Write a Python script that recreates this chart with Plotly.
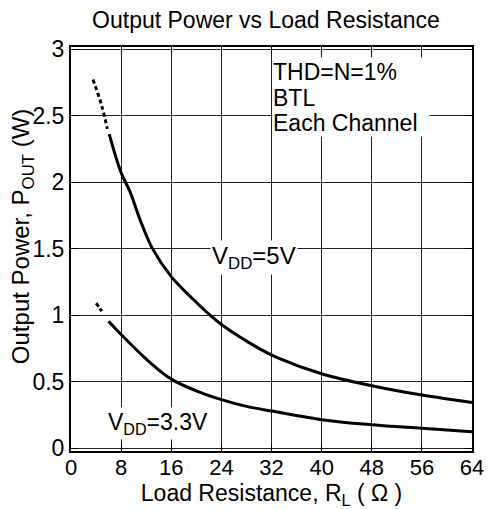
import plotly.graph_objects as go

# ---- data ----
r_5v_dash = [3.5, 4.9, 5.8]
p_5v_dash = [2.77, 2.575, 2.40]
r_5v = [6.1, 8.0, 9.4, 11.0, 12.9, 16.0, 19.5, 22.2, 24.0, 30.2, 33.0, 40, 48, 56, 64]
p_5v = [2.36, 2.07, 1.93, 1.72, 1.51, 1.29, 1.12, 1.00, 0.93, 0.745, 0.68, 0.56, 0.47, 0.40, 0.345]

r_33_dash = [4.0, 4.5, 4.9]
p_33_dash = [1.09, 1.06, 1.03]
r_33 = [6.0, 8.0, 12.6, 16.0, 20.0, 24.0, 28.0, 32, 40, 48, 56, 64]
p_33 = [0.955, 0.855, 0.645, 0.52, 0.432, 0.366, 0.315, 0.28, 0.215, 0.177, 0.15, 0.124]

x_ticks = [0, 8, 16, 24, 32, 40, 48, 56, 64]
y_ticks = [0, 0.5, 1, 1.5, 2, 2.5, 3]
y_tick_text = ["0", "0.5", "1", "1.5", "2", "2.5", "3"]

note_lines = ["THD=N=1%", "BTL", "Each Channel"]
note_y = [2.83, 2.635, 2.445]

FONT = "Liberation Sans, Arial, sans-serif"

fig = go.Figure()
line_solid = dict(color="black", width=3, shape="spline", smoothing=1.0)
line_dash = dict(color="black", width=3, dash="4px,3px", shape="spline")

fig.add_trace(go.Scatter(x=r_5v_dash, y=p_5v_dash, mode="lines", line=line_dash, showlegend=False))
fig.add_trace(go.Scatter(x=r_5v, y=p_5v, mode="lines", line=line_solid, showlegend=False))
fig.add_trace(go.Scatter(x=r_33_dash, y=p_33_dash, mode="lines", line=line_dash, showlegend=False))
fig.add_trace(go.Scatter(x=r_33, y=p_33, mode="lines", line=line_solid, showlegend=False))

annotations = []
for txt, yy in zip(note_lines, note_y):
    annotations.append(dict(x=32.1, y=yy, xref="x", yref="y", xanchor="left", yanchor="middle",
                            text=txt, align="left", showarrow=False, bgcolor="white",
                            width=156, height=27, borderpad=0, font=dict(size=23)))
annotations += [
    dict(x=29.2, y=1.437, xref="x", yref="y", xanchor="center", yanchor="middle",
         text="V<sub>DD</sub>=5V", showarrow=False, bgcolor="white", borderpad=1,
         font=dict(size=24)),
    dict(x=13.9, y=0.19, xref="x", yref="y", xanchor="center", yanchor="middle",
         text="V<sub>DD</sub>=3.3V", showarrow=False, bgcolor="white", borderpad=1,
         font=dict(size=23)),
    # y-axis title (placed as rotated text for exact centring)
    dict(x=-0.122, y=0.532, xref="paper", yref="paper", xanchor="center", yanchor="middle",
         text="Output Power, P<sub>OUT</sub> (W)", textangle=-90, showarrow=False,
         font=dict(size=24)),
]

axis_common = dict(showgrid=True, gridcolor="#222", gridwidth=1,
                   showline=True, linecolor="black", linewidth=2, mirror="ticks",
                   ticks="inside", ticklen=7, tickcolor="black", zeroline=False,
                   automargin=False)

fig.update_layout(
    width=488, height=509,
    margin=dict(l=71, r=16, t=47, b=58),
    paper_bgcolor="white", plot_bgcolor="white",
    font=dict(family=FONT, size=23, color="black"),
    title=dict(text="Output Power vs Load Resistance", x=0.545, xref="container",
               y=1 - 20 / 509, yref="container", yanchor="middle", xanchor="center",
               font=dict(size=23, family=FONT, color="black")),
    xaxis=dict(range=[0, 64], tickvals=x_ticks, ticktext=[str(v) for v in x_ticks],
               tickfont=dict(size=22), ticklabelstandoff=-4,
               title=dict(text="Load Resistance, R<sub>L</sub> ( Ω )", standoff=3,
                          font=dict(size=23)),
               **axis_common),
    yaxis=dict(range=[-0.02, 3.015], tickvals=y_ticks, ticktext=y_tick_text,
               tickfont=dict(size=23),
               **axis_common),
    annotations=annotations,
)

fig.write_html("out.html", config={"displayModeBar": False},
               post_script="document.body.style.margin='0';")
